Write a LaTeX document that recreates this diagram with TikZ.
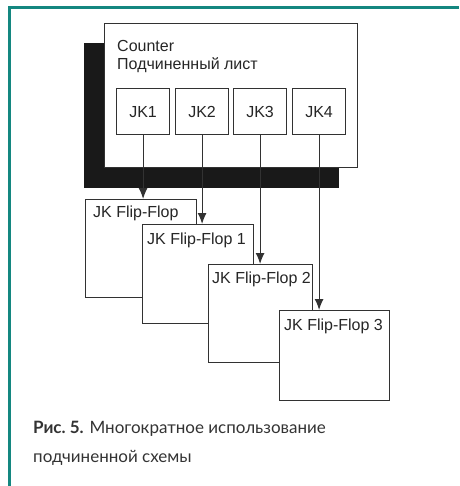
\documentclass[tikz,border=0pt]{standalone}
\usepackage{fontspec}
\setmainfont{Liberation Sans}
\newfontfamily\capfont{Lato}
\usetikzlibrary{arrows.meta}
\definecolor{tealframe}{RGB}{20,135,128}
\definecolor{ln}{RGB}{50,50,50}
\begin{document}
\begin{tikzpicture}[x=1pt,y=-1pt,
  box/.style={draw=ln, line width=1.2pt, fill=white, rectangle, inner sep=0pt, anchor=north west, font=\fontsize{16}{18}\selectfont, text=black!85},
  lbl/.style={font=\fontsize{16}{18}\selectfont, text=black!85, inner sep=0pt, anchor=base west},
  arr/.style={draw=ln, line width=1.2pt, -{Latex[length=11pt,width=9pt]}},
  caption/.style={font=\capfont\fontsize{17}{20}\selectfont, text=black!80, inner sep=0pt, anchor=base west}]
\useasboundingbox (0,0) rectangle (459,486);
\draw[tealframe, line width=3pt] (9.5,486) -- (9.5,8) -- (459,8);
% shadow and counter sheet
\node[fill=black!90, inner sep=0pt, minimum width=255pt, minimum height=145pt, anchor=north west] (shadow) at (84,43) {};
\node[box, minimum width=253pt, minimum height=144pt] (counter) at (104,23) {};
\node[lbl] (ctitle) at (117,52) {Counter};
\node[lbl] (csub) at (117,70) {Подчиненный лист};
% JK blocks
\node[box, minimum width=53pt, minimum height=46pt] (jk1) at (116,88) {JK1};
\node[box, minimum width=53pt, minimum height=46pt] (jk2) at (175,88) {JK2};
\node[box, minimum width=53pt, minimum height=46pt] (jk3) at (233,88) {JK3};
\node[box, minimum width=53pt, minimum height=46pt] (jk4) at (292,88) {JK4};
% flip-flops
\node[box, minimum width=111pt, minimum height=98pt] (ff0) at (85,199) {};
\node[lbl] (t0) at (93,217) {JK Flip-Flop};
\node[box, minimum width=111pt, minimum height=99pt] (ff1) at (142,224) {};
\node[lbl] (t1) at (147,244) {JK Flip-Flop 1};
\node[box, minimum width=104pt, minimum height=98pt] (ff2) at (208,264) {};
\node[lbl] (t2) at (212,283) {JK Flip-Flop 2};
\node[box, minimum width=110pt, minimum height=90pt] (ff3) at (279,310) {};
\node[lbl] (t3) at (284,330) {JK Flip-Flop 3};
% connectors
\draw[arr] (jk1.south) -- (jk1.south |- ff0.north);
\draw[arr] (jk2.south) -- (jk2.south |- ff1.north);
\draw[arr] (jk3.south) -- (jk3.south |- ff2.north);
\draw[arr] (jk4.south) -- (jk4.south |- ff3.north);
% caption
\node[caption] (cap1) at (33,433) {\textbf{Рис.~5.} Многократное использование};
\node[caption] (cap2) at (33,462) {подчиненной схемы};
\end{tikzpicture}
\end{document}
